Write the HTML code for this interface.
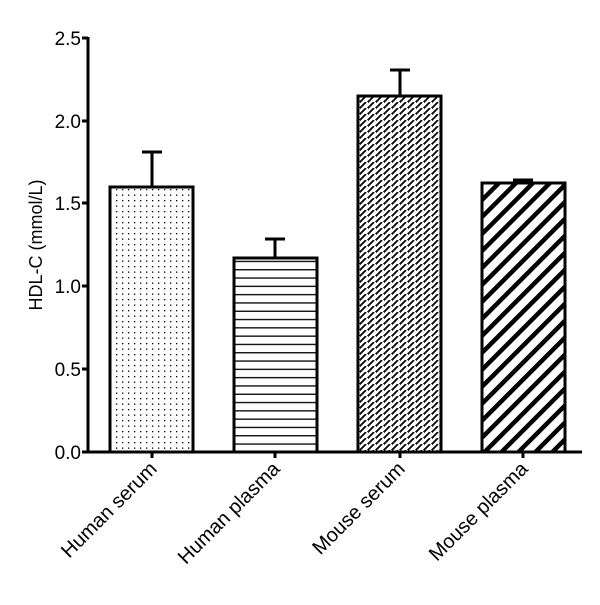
<!DOCTYPE html>
<html><head><style>body{margin:0;background:#fff}</style></head><body>
<svg width="600" height="600" xmlns="http://www.w3.org/2000/svg" font-family="Liberation Sans, Arial, sans-serif">
<defs>
<pattern id="dots" width="6" height="5.5" patternUnits="userSpaceOnUse"><rect x="2" y="2" width="1.3" height="1.3" fill="#000"/></pattern>
<pattern id="hlines" width="10" height="8.3" patternUnits="userSpaceOnUse"><rect x="0" y="3.5" width="10" height="1.3" fill="#000"/></pattern>
<pattern id="weave" width="8" height="6" patternUnits="userSpaceOnUse"><path d="M0,6 L6,0 M-2,2 L2,-2 M6,8 L10,4" stroke="#000" stroke-width="1.8"/></pattern>
<pattern id="stripes" width="12" height="12" patternUnits="userSpaceOnUse" patternTransform="rotate(45)"><rect x="0" y="0" width="4.5" height="12" fill="#000"/></pattern>
</defs>
<g stroke="#000" stroke-width="3" fill="none">
<line x1="152" y1="187" x2="152" y2="152"/><line x1="142" y1="152" x2="162" y2="152"/>
<line x1="275" y1="258" x2="275" y2="239"/><line x1="265" y1="239" x2="285" y2="239"/>
<line x1="400" y1="96" x2="400" y2="70"/><line x1="390" y1="70" x2="410" y2="70"/>
<line x1="523" y1="183" x2="523" y2="180"/><line x1="513" y1="180" x2="533" y2="180"/>
</g>
<g stroke="#000" stroke-width="3">
<rect x="110" y="187" width="83" height="265" fill="url(#dots)"/>
<rect x="234" y="258" width="83" height="194" fill="url(#hlines)"/>
<rect x="358" y="96" width="83" height="356" fill="url(#weave)"/>
<rect x="482" y="183" width="83" height="269" fill="url(#stripes)"/>
</g>
<g stroke="#000" stroke-width="3" fill="none">
<line x1="88" y1="37" x2="88" y2="453"/>
<line x1="86" y1="452" x2="582" y2="452"/>
<line x1="82" y1="38" x2="88" y2="38"/><line x1="82" y1="121" x2="88" y2="121"/>
<line x1="82" y1="203" x2="88" y2="203"/><line x1="82" y1="286" x2="88" y2="286"/>
<line x1="82" y1="369" x2="88" y2="369"/><line x1="82" y1="452" x2="88" y2="452"/>
<line x1="152" y1="452" x2="152" y2="458"/><line x1="275" y1="452" x2="275" y2="458"/>
<line x1="400" y1="452" x2="400" y2="458"/><line x1="523" y1="452" x2="523" y2="458"/>
</g>
<g font-size="19" text-anchor="end" fill="#000">
<text x="81" y="45">2.5</text><text x="81" y="128">2.0</text><text x="81" y="210">1.5</text>
<text x="81" y="293">1.0</text><text x="81" y="376">0.5</text><text x="81" y="459">0.0</text>
</g>
<text transform="translate(42,245) rotate(-90)" font-size="18" text-anchor="middle">HDL-C (mmol/L)</text>
<g font-size="20" text-anchor="end">
<text transform="translate(158,470) rotate(-45)">Human serum</text>
<text transform="translate(281,470) rotate(-45)">Human plasma</text>
<text transform="translate(406,470) rotate(-45)">Mouse serum</text>
<text transform="translate(529,470) rotate(-45)">Mouse plasma</text>
</g>
</svg>
</body></html>
